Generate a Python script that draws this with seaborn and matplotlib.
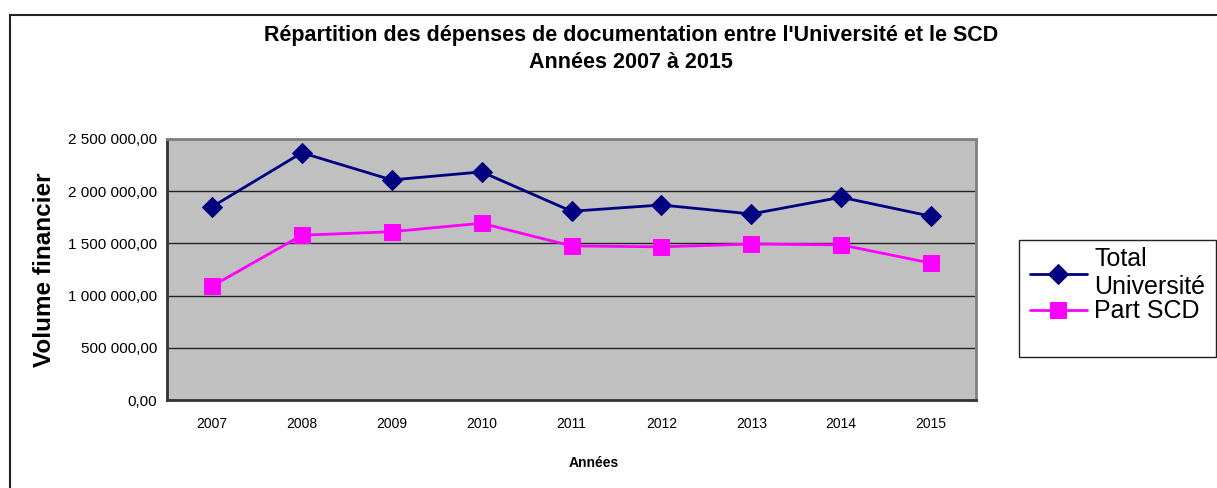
import pandas as pd
import matplotlib
matplotlib.use('Agg')
import matplotlib.pyplot as plt
import seaborn as sns
from matplotlib.patches import Rectangle
from matplotlib.ticker import FuncFormatter, FixedLocator

# data
annees = ['2007', '2008', '2009', '2010', '2011', '2012', '2013', '2014', '2015']
total_universite = [1850000, 2368000, 2108000, 2185000, 1808000, 1868000, 1782000, 1942000, 1760000]
part_scd = [1090000, 1578000, 1612000, 1693000, 1476000, 1467000, 1494000, 1486000, 1311000]
y_ticks = [0, 500000, 1000000, 1500000, 2000000, 2500000]

sns.set_style('white')
plt.rcParams['font.family'] = ['Liberation Sans', 'DejaVu Sans']
plt.rcParams['text.color'] = 'black'
plt.rcParams['axes.labelcolor'] = 'black'
plt.rcParams['xtick.color'] = 'black'
plt.rcParams['ytick.color'] = 'black'

fig = plt.figure(figsize=(12.17, 4.88), dpi=100)
ax = fig.add_axes([167 / 1217, 1 - 400 / 488, (976 - 167) / 1217, 261 / 488])
ax.set_facecolor('#C0C0C0')

# outer chart border (runs off the right and bottom edges)
fig.patches.append(Rectangle((9.5 / 1217, -0.1), 1.2, 1 - 14.7 / 488 + 0.1,
                             transform=fig.transFigure, fill=False,
                             edgecolor='#222222', linewidth=1.5))
# legend box
fig.patches.append(Rectangle((1019 / 1217, 1 - 357 / 488), 197 / 1217, 117 / 488,
                             transform=fig.transFigure, fill=False,
                             edgecolor='#222222', linewidth=1))

df = pd.DataFrame({'Années': annees, 'Total Université': total_universite, 'Part SCD': part_scd})

sns.lineplot(data=df, x='Années', y='Total Université', ax=ax, color='#000080',
             marker='D', markersize=10, markeredgecolor='#000080', linewidth=2,
             label='Total\nUniversité')
sns.lineplot(data=df, x='Années', y='Part SCD', ax=ax, color='#FF00FF',
             marker='s', markersize=12, markeredgecolor='#FF00FF', linewidth=2,
             label='Part SCD')

ax.set_xlim(-0.5, len(annees) - 0.5)
ax.set_ylim(0, 2500000)
ax.yaxis.set_major_locator(FixedLocator(y_ticks))
ax.yaxis.set_major_formatter(FuncFormatter(lambda v, p: f'{v:,.2f}'.replace(',', ' ').replace('.', ',')))
ax.grid(axis='y', color='#222222', linewidth=1)
ax.set_axisbelow(True)

# category boundaries carry the tick marks
ax.set_xticks([i - 0.5 for i in range(len(annees) + 1)], minor=True)
ax.tick_params(axis='x', which='major', length=0, labelsize=10, pad=12)
ax.tick_params(axis='x', which='minor', length=5, width=1, color='#222222', direction='out')
ax.tick_params(axis='y', which='major', length=5, width=1, color='#222222', direction='out', labelsize=11, pad=2)

for side in ['top', 'right']:
    ax.spines[side].set_color('#808080')
    ax.spines[side].set_linewidth(2)
for side in ['left', 'bottom']:
    ax.spines[side].set_color('#333333')
    ax.spines[side].set_linewidth(2)

ax.set_xlabel('Années', fontsize=10, fontweight='bold')
ax.xaxis.set_label_coords((594 - 167) / (976 - 167), -56 / 261)
ax.set_ylabel('Volume financier', fontsize=17.5, fontweight='bold')
ax.yaxis.set_label_coords(-(167 - 56) / (976 - 167), 0.5)

fig.text(631 / 1217, 1 - 35 / 488, "Répartition des dépenses de documentation entre l'Université et le SCD",
         ha='center', va='center', fontsize=15.5, fontweight='bold')
fig.text(631 / 1217, 1 - 62 / 488, 'Années 2007 à 2015',
         ha='center', va='center', fontsize=15.5, fontweight='bold')

leg = ax.legend(loc='upper left', bbox_to_anchor=(1022 / 1217, 1 - 240 / 488),
                bbox_transform=fig.transFigure, fontsize=18, frameon=False,
                borderpad=0.3, labelspacing=0.0,
                handlelength=2.3, handletextpad=0.3, borderaxespad=0)

fig.savefig('out.png', dpi=100)
